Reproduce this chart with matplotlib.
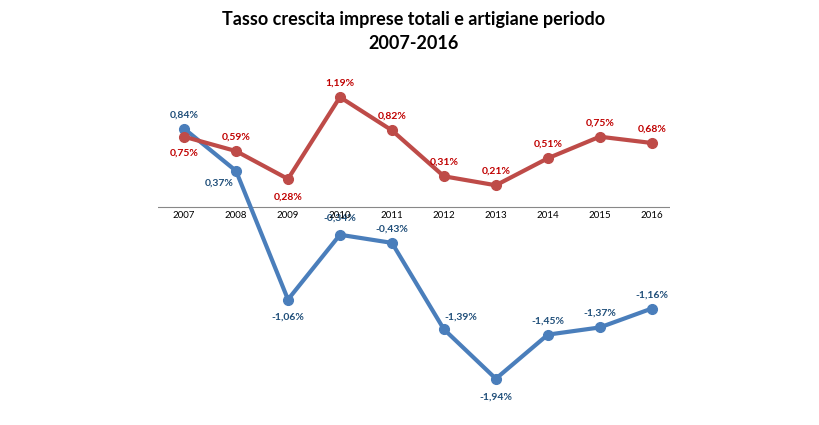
import matplotlib
matplotlib.use("Agg")
import matplotlib.pyplot as plt

years = [2007, 2008, 2009, 2010, 2011, 2012, 2013, 2014, 2015, 2016]
totali = [0.84, 0.37, -1.06, -0.34, -0.43, -1.39, -1.94, -1.45, -1.37, -1.16]
artigiane = [0.75, 0.59, 0.28, 1.19, 0.82, 0.31, 0.21, 0.51, 0.75, 0.68]

# label offsets in points (dx, dy)
blue_off = [(0, 10), (-12, -9), (0, -13), (0, 12), (0, 10), (12, 9), (0, -13), (0, 10), (0, 10), (0, 10)]
red_off = [(0, -12), (0, 10), (0, -13), (0, 10), (0, 10), (0, 10), (0, 10), (0, 10), (0, 10), (0, 10)]

plt.rcParams["font.family"] = ["Lato", "DejaVu Sans"]

fig = plt.figure(figsize=(8.19, 4.25), dpi=100)
ax = fig.add_axes([0.193, 0.075, 0.625, 0.741])

blue = "#4A7EBB"
red = "#BE4B48"
ax.plot(years, totali, color=blue, lw=3, marker="o", ms=7, zorder=3)
ax.plot(years, artigiane, color=red, lw=3, marker="o", ms=7, zorder=3)

for x, v, o in zip(years, totali, blue_off):
    ax.annotate(f"{v:.2f}%".replace(".", ","), (x, v), xytext=o, textcoords="offset points",
                ha="center", va="center", fontsize=7.5, fontweight="bold", color="#1F4E79")
for x, v, o in zip(years, artigiane, red_off):
    ax.annotate(f"{v:.2f}%".replace(".", ","), (x, v), xytext=o, textcoords="offset points",
                ha="center", va="center", fontsize=7.5, fontweight="bold", color="#C00000")

ax.set_xlim(2006.5, 2016.35)
ax.set_ylim(-2.1, 1.4)
ax.axhline(-0.03, color="#888888", lw=0.8, zorder=1)
for s in ax.spines.values():
    s.set_visible(False)
ax.set_yticks([])
ax.set_xticks([])
for x in years:
    ax.text(x, -0.13, str(x), ha="center", va="center", fontsize=7)

fig.text(0.505, 0.955, "Tasso crescita imprese totali e artigiane periodo", ha="center",
         va="center", fontsize=13, fontweight="bold")
fig.text(0.505, 0.897, "2007-2016", ha="center", va="center", fontsize=13, fontweight="bold")

fig.savefig("out.png", dpi=100)
